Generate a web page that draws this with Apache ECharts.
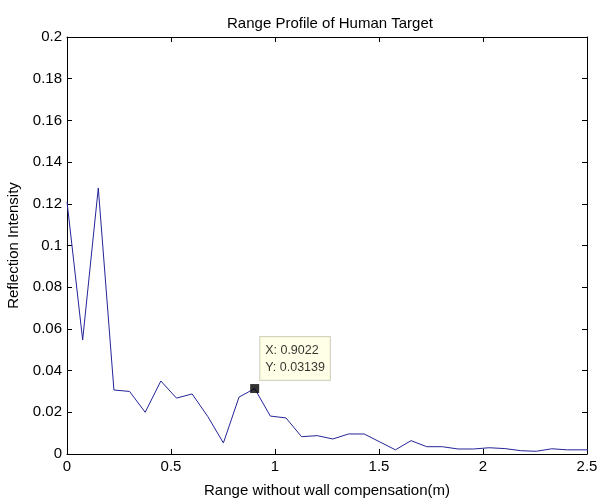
<!DOCTYPE html>
<html><head><meta charset="utf-8">
<script src="https://cdn.jsdelivr.net/npm/echarts@6/dist/echarts.min.js"></script>
<style>html,body{margin:0;padding:0;background:#fff}#c{width:598px;height:501px}</style>
</head><body><div id="c"></div>
<script>
var rangeM = [0, 0.0752, 0.1504, 0.2256, 0.3008, 0.3759, 0.4511, 0.5263, 0.6015, 0.6767, 0.7519, 0.8271, 0.9022, 0.9774, 1.0526, 1.1278, 1.2030, 1.2782, 1.3534, 1.4286, 1.5038, 1.5789, 1.6541, 1.7293, 1.8045, 1.8797, 1.9549, 2.0301, 2.1053, 2.1805, 2.2556, 2.3308, 2.4060, 2.4812, 2.5564];
var intensity = [0.121, 0.0547, 0.1276, 0.0307, 0.030, 0.020, 0.035, 0.0268, 0.0288, 0.018, 0.0053, 0.0273, 0.03139, 0.0182, 0.0173, 0.0083, 0.0088, 0.0072, 0.0096, 0.0096, 0.0058, 0.002, 0.0064, 0.0035, 0.0035, 0.0024, 0.0024, 0.003, 0.0026, 0.0016, 0.0013, 0.0025, 0.002, 0.002, 0.002];
var xTicks = [0, 0.5, 1, 1.5, 2, 2.5];
var yTicks = [0, 0.02, 0.04, 0.06, 0.08, 0.1, 0.12, 0.14, 0.16, 0.18, 0.2];
var tipPoint = [0.9022, 0.03139];
var titleText = 'Range Profile of Human Target';
var xName = 'Range without wall compensation(m)';
var yName = 'Reflection Intensity';

var font = 'Arial, "Liberation Sans", sans-serif';
var lineData = rangeM.map(function (x, i) { return [x, intensity[i]]; });
var axisLine = { show: true, onZero: false, lineStyle: { color: '#000', width: 1 } };
var tick = { show: true, inside: true, length: 5, lineStyle: { color: '#000' } };

var chart = echarts.init(document.getElementById('c'));
chart.setOption({
  backgroundColor: '#fff',
  animation: false,
  title: { text: titleText, left: 325, top: 11, textAlign: 'center',
    textStyle: { fontFamily: font, fontSize: 15, fontWeight: 'normal', color: '#000' } },
  grid: { left: 67, right: 11, top: 37, bottom: 47, show: false, containLabel: false, outerBoundsMode: 'none' },
  xAxis: [
    { type: 'value', min: xTicks[0], max: xTicks[xTicks.length - 1], interval: 0.5,
      name: xName, nameLocation: 'middle', nameGap: 29,
      nameTextStyle: { fontFamily: font, fontSize: 15, color: '#000' },
      axisLine: axisLine, axisTick: tick, splitLine: { show: false },
      axisLabel: { fontFamily: font, fontSize: 15, color: '#000', margin: 5,
        formatter: function (v) { return String(v); } } },
    { type: 'value', position: 'top', min: 0, max: 2.5, interval: 0.5,
      axisLine: axisLine, axisTick: tick, axisLabel: { show: false }, splitLine: { show: false } }
  ],
  yAxis: [
    { type: 'value', min: yTicks[0], max: yTicks[yTicks.length - 1], interval: 0.02,
      name: yName, nameLocation: 'middle', nameGap: 46, nameRotate: 90,
      nameTextStyle: { fontFamily: font, fontSize: 15, color: '#000' },
      axisLine: axisLine, axisTick: tick, splitLine: { show: false },
      axisLabel: { fontFamily: font, fontSize: 15, color: '#000', margin: 5,
        formatter: function (v) { return String(Math.round(v * 100) / 100); } } },
    { type: 'value', position: 'right', min: 0, max: 0.2, interval: 0.02,
      axisLine: axisLine, axisTick: tick, axisLabel: { show: false }, splitLine: { show: false } }
  ],
  series: [
    { type: 'line', data: lineData, symbol: 'none', clip: true,
      lineStyle: { color: '#24249a', width: 1 } },
    { type: 'scatter', data: [tipPoint], symbol: 'rect', symbolSize: 9,
      itemStyle: { color: '#000' }, z: 5,
      label: { show: true, position: [10, -47],
        formatter: 'X: ' + tipPoint[0] + '\nY: ' + tipPoint[1],
        fontFamily: font, fontSize: 12.5, color: '#000', lineHeight: 17,
        backgroundColor: '#ffffe1', borderColor: '#c8c8b4', borderWidth: 1,
        padding: [5, 5, 4, 5] } }
  ]
});
</script></body></html>
